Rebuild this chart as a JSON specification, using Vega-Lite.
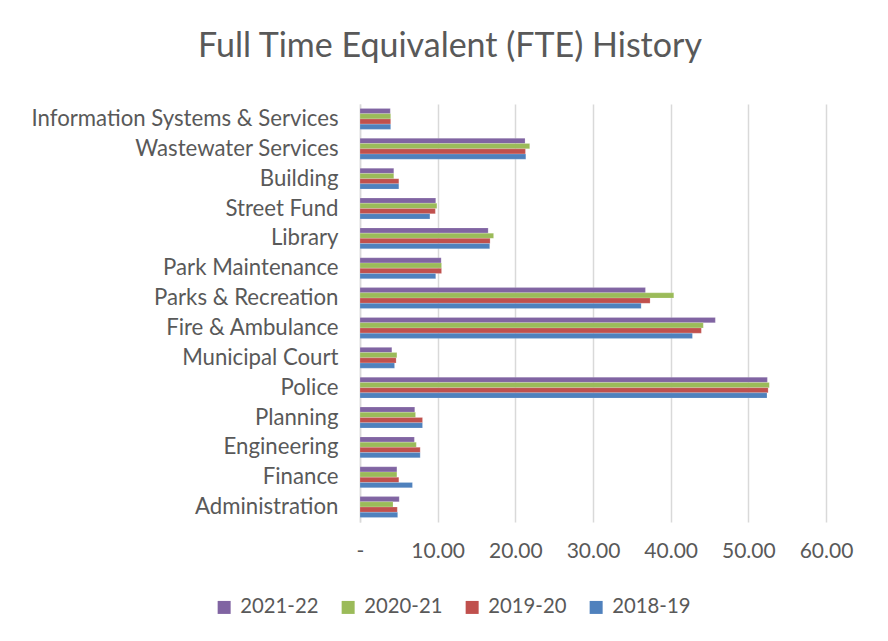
{
  "$schema": "https://vega.github.io/schema/vega-lite/v6.json",
  "autosize": "none",
  "width": 466,
  "height": 418,
  "padding": {"left": 360, "top": 104, "right": 62, "bottom": 119},
  "background": "white",
  "title": {
    "text": "Full Time Equivalent (FTE) History",
    "anchor": "middle",
    "dx": -143,
    "offset": 40,
    "font": "Lato",
    "fontSize": 34,
    "fontWeight": "normal",
    "color": "#595959"
  },
  "data": {
    "values": [
      {"dept": "Information Systems & Services", "year": "2021-22", "fte": 3.9},
      {"dept": "Information Systems & Services", "year": "2020-21", "fte": 3.95},
      {"dept": "Information Systems & Services", "year": "2019-20", "fte": 3.95},
      {"dept": "Information Systems & Services", "year": "2018-19", "fte": 3.95},
      {"dept": "Wastewater Services", "year": "2021-22", "fte": 21.25},
      {"dept": "Wastewater Services", "year": "2020-21", "fte": 21.85},
      {"dept": "Wastewater Services", "year": "2019-20", "fte": 21.3},
      {"dept": "Wastewater Services", "year": "2018-19", "fte": 21.35},
      {"dept": "Building", "year": "2021-22", "fte": 4.35},
      {"dept": "Building", "year": "2020-21", "fte": 4.35},
      {"dept": "Building", "year": "2019-20", "fte": 5.0},
      {"dept": "Building", "year": "2018-19", "fte": 5.0},
      {"dept": "Street Fund", "year": "2021-22", "fte": 9.75},
      {"dept": "Street Fund", "year": "2020-21", "fte": 9.9},
      {"dept": "Street Fund", "year": "2019-20", "fte": 9.7},
      {"dept": "Street Fund", "year": "2018-19", "fte": 9.0},
      {"dept": "Library", "year": "2021-22", "fte": 16.5},
      {"dept": "Library", "year": "2020-21", "fte": 17.2},
      {"dept": "Library", "year": "2019-20", "fte": 16.75},
      {"dept": "Library", "year": "2018-19", "fte": 16.7},
      {"dept": "Park Maintenance", "year": "2021-22", "fte": 10.45},
      {"dept": "Park Maintenance", "year": "2020-21", "fte": 10.5},
      {"dept": "Park Maintenance", "year": "2019-20", "fte": 10.5},
      {"dept": "Park Maintenance", "year": "2018-19", "fte": 9.75},
      {"dept": "Parks & Recreation", "year": "2021-22", "fte": 36.75},
      {"dept": "Parks & Recreation", "year": "2020-21", "fte": 40.4},
      {"dept": "Parks & Recreation", "year": "2019-20", "fte": 37.35},
      {"dept": "Parks & Recreation", "year": "2018-19", "fte": 36.2},
      {"dept": "Fire & Ambulance", "year": "2021-22", "fte": 45.75},
      {"dept": "Fire & Ambulance", "year": "2020-21", "fte": 44.2},
      {"dept": "Fire & Ambulance", "year": "2019-20", "fte": 43.95},
      {"dept": "Fire & Ambulance", "year": "2018-19", "fte": 42.8},
      {"dept": "Municipal Court", "year": "2021-22", "fte": 4.1},
      {"dept": "Municipal Court", "year": "2020-21", "fte": 4.75},
      {"dept": "Municipal Court", "year": "2019-20", "fte": 4.65},
      {"dept": "Municipal Court", "year": "2018-19", "fte": 4.45},
      {"dept": "Police", "year": "2021-22", "fte": 52.45},
      {"dept": "Police", "year": "2020-21", "fte": 52.7},
      {"dept": "Police", "year": "2019-20", "fte": 52.55},
      {"dept": "Police", "year": "2018-19", "fte": 52.4},
      {"dept": "Planning", "year": "2021-22", "fte": 7.05},
      {"dept": "Planning", "year": "2020-21", "fte": 7.15},
      {"dept": "Planning", "year": "2019-20", "fte": 8.05},
      {"dept": "Planning", "year": "2018-19", "fte": 8.05},
      {"dept": "Engineering", "year": "2021-22", "fte": 7.0},
      {"dept": "Engineering", "year": "2020-21", "fte": 7.25},
      {"dept": "Engineering", "year": "2019-20", "fte": 7.75},
      {"dept": "Engineering", "year": "2018-19", "fte": 7.75},
      {"dept": "Finance", "year": "2021-22", "fte": 4.75},
      {"dept": "Finance", "year": "2020-21", "fte": 4.75},
      {"dept": "Finance", "year": "2019-20", "fte": 5.0},
      {"dept": "Finance", "year": "2018-19", "fte": 6.75},
      {"dept": "Administration", "year": "2021-22", "fte": 5.05},
      {"dept": "Administration", "year": "2020-21", "fte": 4.25},
      {"dept": "Administration", "year": "2019-20", "fte": 4.8},
      {"dept": "Administration", "year": "2018-19", "fte": 4.85}
    ]
  },
  "mark": {"type": "bar", "stroke": "white", "strokeOpacity": 0.35, "strokeWidth": 0.5},
  "encoding": {
    "y": {
      "field": "dept",
      "type": "nominal",
      "sort": null,
      "scale": {"paddingInner": 0.3, "paddingOuter": 0.15},
      "axis": {
        "title": null,
        "ticks": false,
        "domainColor": "#d9d9d9",
        "domainWidth": 1.5,
        "labelFont": "Lato",
        "labelFontSize": 22.2,
        "labelColor": "#595959",
        "labelPadding": 22,
        "labelLimit": 400
      }
    },
    "yOffset": {
      "field": "year",
      "type": "nominal",
      "scale": {"domain": ["2021-22", "2020-21", "2019-20", "2018-19"], "paddingInner": 0, "paddingOuter": 0}
    },
    "x": {
      "field": "fte",
      "type": "quantitative",
      "scale": {"domain": [0, 60], "nice": false},
      "axis": {
        "title": null,
        "values": [0, 10, 20, 30, 40, 50, 60],
        "labelOverlap": false,
        "labelFlush": false,
        "labelBound": false,
        "labelExpr": "datum.value == 0 ? '-\u00a0\u00a0' : format(datum.value, '.2f')",
        "domain": false,
        "ticks": false,
        "grid": true,
        "gridColor": "#d9d9d9",
        "gridWidth": 1.5,
        "labelFont": "Lato",
        "labelFontSize": 21,
        "labelColor": "#595959",
        "labelPadding": 18
      }
    },
    "color": {
      "field": "year",
      "type": "nominal",
      "scale": {
        "domain": ["2021-22", "2020-21", "2019-20", "2018-19"],
        "range": ["#8064a2", "#9bbb59", "#c0504d", "#4f81bd"]
      },
      "legend": {
        "title": null,
        "orient": "none",
        "direction": "horizontal",
        "legendX": -146,
        "legendY": 493,
        "symbolType": "square",
        "symbolSize": 169,
        "symbolStrokeWidth": 0,
        "labelFont": "Lato",
        "labelFontSize": 20.3,
        "labelColor": "#595959",
        "labelOffset": 6,
        "columnPadding": 19
      }
    }
  },
  "config": {
    "view": {"stroke": null}
  }
}
